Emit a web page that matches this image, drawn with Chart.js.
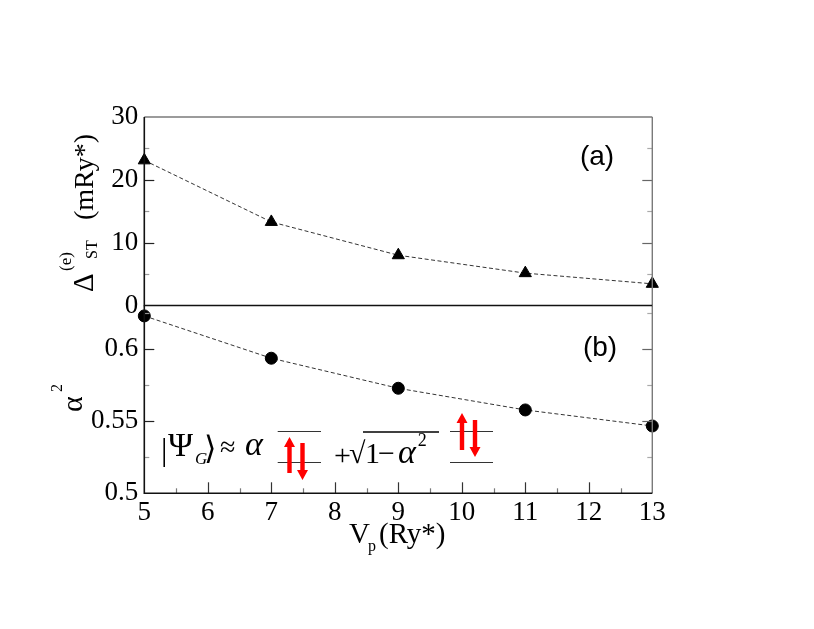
<!DOCTYPE html>
<html>
<head>
<meta charset="utf-8">
<script src="https://cdn.jsdelivr.net/npm/chart.js@4.4.1/dist/chart.umd.min.js"></script>
<style>
  body { margin: 0; background: #fff; }
  #wrap { position: relative; width: 814px; height: 629px; }
  canvas { position: absolute; left: 0; top: 0; }
</style>
</head>
<body>
<div id="wrap">
  <canvas id="bottomChart" width="814" height="629"></canvas>
  <canvas id="topChart" width="814" height="629"></canvas>
</div>
<script>
// data
const vp = [5, 7, 9, 11, 13];
const deltaST = [23.1, 13.3, 8.0, 5.15, 3.45];
const alphaSq = [0.6228, 0.5935, 0.5727, 0.5577, 0.5466];
const xTickVals = [5, 6, 7, 8, 9, 10, 11, 12, 13];
const deltaTicks = [0, 10, 20, 30];
const alphaTicks = [0.5, 0.55, 0.6];

const SERIF = '"Liberation Serif", "DejaVu Serif", serif';
const SANS = '"Liberation Sans", Arial, sans-serif';

// box layout (pixels of the 814x629 page)
const LEFT = 144.3, RIGHT = 652.3, TOP = 117, MID = 305.5, BOTTOM = 493.3;

const toPoints = (xs, ys) => xs.map((x, i) => ({ x: x, y: ys[i] }));

// frame with inward major/minor ticks
const framePlugin = {
  id: 'frame',
  afterDraw(chart, args, o) {
    const { ctx, chartArea: a, scales } = chart;
    const y = scales.y, x = scales.x;
    ctx.save();
    ctx.lineCap = 'butt';
    // y ticks, left and right
    for (let v = o.yMin; v <= o.yMax + 1e-9; v += o.yMinor) {
      const py = Math.round(y.getPixelForValue(v)) + 0.5;
      if (py < a.top + 1 || py > a.bottom - 1) continue;
      const major = o.yMajor.some(m => Math.abs(m - v) < 1e-6);
      const len = major ? 10 : 5;
      ctx.lineWidth = 1.2;
      ctx.strokeStyle = major ? '#222' : '#999';
      ctx.beginPath(); ctx.moveTo(a.left, py); ctx.lineTo(a.left + len, py); ctx.stroke();
      ctx.strokeStyle = major ? '#666' : '#aaa';
      ctx.beginPath(); ctx.moveTo(a.right, py); ctx.lineTo(a.right - len, py); ctx.stroke();
    }
    // x ticks on the bottom panel only
    if (o.xTicks) {
      for (let v = 5; v <= 13 + 1e-9; v += 0.5) {
        const px = Math.round(x.getPixelForValue(v)) + 0.5;
        if (px < a.left + 1 || px > a.right - 1) continue;
        const major = Math.abs(v - Math.round(v)) < 1e-6;
        ctx.lineWidth = 1.2;
        ctx.strokeStyle = major ? '#333' : '#777';
        ctx.beginPath(); ctx.moveTo(px, a.bottom); ctx.lineTo(px, a.bottom - (major ? 11 : 5)); ctx.stroke();
      }
    }
    // frame lines
    ctx.lineWidth = 1.4;
    ctx.strokeStyle = '#7a7a7a';
    ctx.beginPath(); ctx.moveTo(a.right, a.top); ctx.lineTo(a.right, a.bottom); ctx.stroke();
    if (o.grayTop) {
      ctx.beginPath(); ctx.moveTo(a.left, a.top); ctx.lineTo(a.right, a.top); ctx.stroke();
    }
    ctx.strokeStyle = '#111';
    ctx.lineWidth = 1.6;
    ctx.beginPath();
    ctx.moveTo(a.left, a.top); ctx.lineTo(a.left, a.bottom); ctx.lineTo(a.right, a.bottom);
    ctx.stroke();
    // panel tag
    ctx.fillStyle = '#000';
    ctx.font = '28px ' + SANS;
    ctx.textAlign = 'center';
    ctx.textBaseline = 'middle';
    ctx.fillText(o.tag, o.tagX, o.tagY);
    ctx.restore();
  }
};

// rotated y title made of pieces: [text, font, offsetAlong, offsetAcross]
function drawRotated(ctx, ox, oy, pieces) {
  ctx.save();
  ctx.translate(ox, oy);
  ctx.rotate(-Math.PI / 2);
  ctx.fillStyle = '#000';
  ctx.textAlign = 'left';
  ctx.textBaseline = 'alphabetic';
  pieces.forEach(p => { ctx.font = p[1]; ctx.fillText(p[0], p[2], p[3]); });
  ctx.restore();
}

const topTitle = {
  id: 'topTitle',
  afterDraw(chart) {
    drawRotated(chart.ctx, 93, 292, [
      ['\u0394', '29px ' + SERIF, 0, 0],
      ['(e)', '17px ' + SERIF, 21, -22],
      ['ST', '16px ' + SERIF, 33, 4],
      ['(mRy*)', '28px ' + SERIF, 72, 0]
    ]);
  }
};

function arrow(ctx, x, y0, y1) {
  // shaft from y0 to tip at y1
  const dir = Math.sign(y1 - y0);
  const head = 10, hw = 5.5, sw = 2.2;
  ctx.beginPath();
  ctx.moveTo(x - sw, y0);
  ctx.lineTo(x - sw, y1 - dir * head);
  ctx.lineTo(x - hw, y1 - dir * head);
  ctx.lineTo(x, y1);
  ctx.lineTo(x + hw, y1 - dir * head);
  ctx.lineTo(x + sw, y1 - dir * head);
  ctx.lineTo(x + sw, y0);
  ctx.closePath();
  ctx.fill();
}

const bottomDecor = {
  id: 'bottomDecor',
  afterDraw(chart) {
    const ctx = chart.ctx;
    drawRotated(ctx, 82, 412, [
      ['\u03b1', '30px ' + SERIF, 0, 0],
      ['2', '16px ' + SERIF, 20, -20]
    ]);
    // x title V_p(Ry*)
    ctx.save();
    ctx.fillStyle = '#000';
    ctx.textBaseline = 'alphabetic';
    ctx.textAlign = 'left';
    ctx.font = '29px ' + SERIF;
    ctx.fillText('V', 349, 543);
    ctx.font = '16px ' + SERIF;
    ctx.fillText('p', 368, 551);
    ctx.font = '29px ' + SERIF;
    ctx.fillText('(Ry*)', 379, 543);

    // wave function annotation
    ctx.font = '32px ' + SERIF;
    ctx.fillText('|', 161, 460);
    ctx.font = '34px ' + SERIF;
    ctx.fillText('\u03a8', 168, 456);
    ctx.font = 'italic 17px ' + SERIF;
    ctx.fillText('G', 195, 464);
    ctx.font = '32px "DejaVu Serif", serif';
    ctx.fillText('\u27e9', 204, 459);
    ctx.font = '28px ' + SERIF;
    ctx.fillText('\u2248', 220, 456);
    ctx.font = 'italic 34px ' + SERIF;
    ctx.fillText('\u03b1', 245, 455);
    ctx.font = '30px ' + SERIF;
    ctx.fillText('+', 334, 465);
    ctx.fillText('\u221a', 349, 463);
    ctx.fillText('1', 365, 463);
    ctx.fillText('\u2212', 378, 463);
    ctx.font = 'italic 34px ' + SERIF;
    ctx.fillText('\u03b1', 398, 463);
    const aw = ctx.measureText('\u03b1').width;
    ctx.font = '18px ' + SERIF;
    ctx.fillText('2', 398 + aw + 2, 446);
    ctx.strokeStyle = '#000';
    ctx.lineWidth = 1.3;
    ctx.beginPath(); ctx.moveTo(363, 432); ctx.lineTo(439, 432); ctx.stroke();

    // level diagrams
    ctx.strokeStyle = '#333';
    ctx.lineWidth = 1.2;
    [[277.7, 321], [450, 493]].forEach(([x0, x1]) => {
      ctx.beginPath();
      ctx.moveTo(x0, 431.5); ctx.lineTo(x1, 431.5);
      ctx.moveTo(x0, 462.5); ctx.lineTo(x1, 462.5);
      ctx.stroke();
    });
    ctx.fillStyle = '#ff0000';
    arrow(ctx, 289.5, 473, 437);
    arrow(ctx, 302.5, 443, 480);
    arrow(ctx, 462, 450, 413);
    arrow(ctx, 475, 420, 457);
    ctx.restore();
  }
};

const lineStyle = {
  borderColor: '#333',
  borderWidth: 1,
  borderDash: [4, 2.5],
  pointBackgroundColor: '#000',
  pointBorderColor: '#000',
  pointRadius: 6,
  tension: 0,
  fill: false,
  clip: false
};

const tickFont = { family: SERIF, size: 27 };
const fmt = v => String(+Number(v).toFixed(2));

new Chart(document.getElementById('topChart'), {
  type: 'line',
  data: {
    datasets: [Object.assign({ label: 'Delta ST', data: toPoints(vp, deltaST), pointStyle: 'triangle' }, lineStyle, { pointRadius: 7 })]
  },
  options: {
    responsive: false,
    animation: false,
    layout: { padding: { top: TOP, bottom: 629 - MID, left: 0, right: 814 - RIGHT } },
    plugins: {
      legend: { display: false },
      tooltip: { enabled: false },
      frame: { yMin: 0, yMax: 30, yMinor: 5, yMajor: deltaTicks, xTicks: false, grayTop: true, tag: '(a)', tagX: 597, tagY: 157 }
    },
    scales: {
      x: { type: 'linear', min: 5, max: 13, display: false },
      y: {
        min: 0, max: 30,
        afterFit(s) { s.width = LEFT; },
        grid: { display: false, drawTicks: false },
        border: { display: false },
        afterBuildTicks(s) { s.ticks = deltaTicks.map(v => ({ value: v })); },
        ticks: { font: tickFont, color: '#000', padding: 6, callback: fmt }
      }
    }
  },
  plugins: [framePlugin, topTitle]
});

new Chart(document.getElementById('bottomChart'), {
  type: 'line',
  data: {
    datasets: [Object.assign({ label: 'alpha^2', data: toPoints(vp, alphaSq), pointStyle: 'circle' }, lineStyle)]
  },
  options: {
    responsive: false,
    animation: false,
    layout: { padding: { top: MID, bottom: 0, left: 0, right: 814 - RIGHT } },
    plugins: {
      legend: { display: false },
      tooltip: { enabled: false },
      frame: { yMin: 0.5, yMax: 0.63, yMinor: 0.025, yMajor: alphaTicks, xTicks: true, grayTop: false, tag: '(b)', tagX: 600, tagY: 348 }
    },
    scales: {
      x: {
        type: 'linear', min: 5, max: 13,
        afterFit(s) { s.height = 629 - BOTTOM; },
        grid: { display: false, drawTicks: false },
        border: { display: false },
        afterBuildTicks(s) { s.ticks = xTickVals.map(v => ({ value: v })); },
        ticks: { font: tickFont, color: '#000', padding: 3, maxRotation: 0, autoSkip: false, callback: fmt }
      },
      y: {
        min: 0.5, max: 0.63,
        afterFit(s) { s.width = LEFT; },
        grid: { display: false, drawTicks: false },
        border: { display: false },
        afterBuildTicks(s) { s.ticks = alphaTicks.map(v => ({ value: v })); },
        ticks: { font: tickFont, color: '#000', padding: 6, callback: fmt }
      }
    }
  },
  plugins: [framePlugin, bottomDecor]
});
</script>
</body>
</html>
